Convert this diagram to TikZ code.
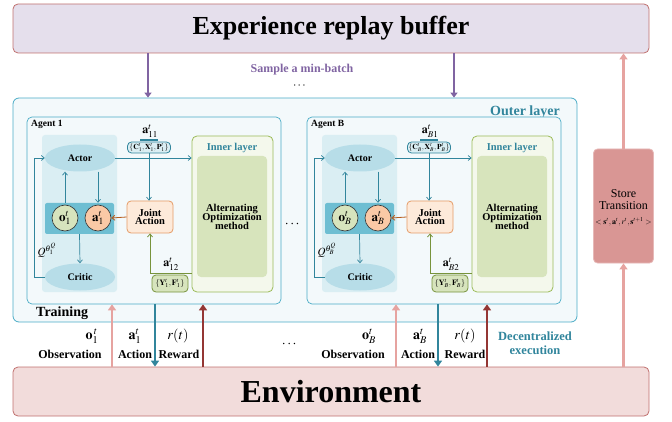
\documentclass[tikz,border=0pt]{standalone}
\usepackage{amsmath}
\usepackage{mathptmx}
\usepackage{fontspec}
\setmainfont{Liberation Serif}
\usetikzlibrary{arrows.meta,calc,shapes.geometric}
\definecolor{bufFill}{HTML}{E5DFEC}
\definecolor{bufDraw}{HTML}{C0706E}
\definecolor{purp}{HTML}{8064A2}
\definecolor{teal1}{HTML}{4BACC6}
\definecolor{tealD}{HTML}{31859C}
\definecolor{outerFill}{HTML}{F3F9FB}
\definecolor{panel}{HTML}{DAEEF3}
\definecolor{ellFill}{HTML}{B7DDE8}
\definecolor{dpanel}{HTML}{6EBED2}
\definecolor{oFill}{HTML}{D7E4BD}
\definecolor{aFill}{HTML}{FAC9A6}
\definecolor{jFill}{HTML}{FDEADA}
\definecolor{jDraw}{HTML}{E59B66}
\definecolor{brownArr}{HTML}{B65C1C}
\definecolor{innerDraw}{HTML}{9BBB59}
\definecolor{innerFill}{HTML}{F4F8EC}
\definecolor{innerIn}{HTML}{D7E4BC}
\definecolor{oliveArr}{HTML}{77933C}
\definecolor{storeFill}{HTML}{D99694}
\definecolor{storeDraw}{HTML}{E6B9B8}
\definecolor{pinkArr}{HTML}{E6A3A0}
\definecolor{darkRed}{HTML}{943634}
\definecolor{envFill}{HTML}{F2DCDB}
\definecolor{envDraw}{HTML}{C0706E}
\newcommand\fs[1]{\fontsize{#1}{#1}\selectfont}
\tikzset{
  bigbox/.style={draw=bufDraw, line width=0.8pt, rounded corners=5pt, minimum width=636, minimum height=49, inner sep=0},
  outerbox/.style={draw=teal1, fill=outerFill, line width=0.8pt, rounded corners=6pt, inner sep=0},
  agentbox/.style={draw=teal1, fill=outerFill, line width=0.7pt, rounded corners=5pt, minimum width=254, minimum height=187, inner sep=0},
  panelbox/.style={fill=panel, rounded corners=3pt, minimum width=75, minimum height=157, inner sep=0},
  ell/.style={ellipse, fill=ellFill, minimum width=70, minimum height=27, inner sep=0, font=\bfseries\fs{10}},
  dpanelbox/.style={fill=dpanel, rounded corners=2pt, minimum width=69, minimum height=31, inner sep=0},
  circ/.style={circle, draw=black!80, line width=0.6pt, minimum size=26, inner sep=0, font=\fs{13}},
  jointbox/.style={draw=jDraw, fill=jFill, line width=0.8pt, rounded corners=4pt, minimum width=46, minimum height=32, inner sep=0, align=center, font=\bfseries\fs{10.5}},
  innerbox/.style={draw=innerDraw, fill=innerFill, line width=0.8pt, rounded corners=5pt, minimum width=81, minimum height=156, inner sep=0},
  innerin/.style={fill=innerIn, rounded corners=4pt, minimum width=70, minimum height=121, inner sep=0},
  setC/.style={draw=tealD, fill=panel, line width=0.8pt, rounded corners=4pt, minimum width=43, minimum height=11, inner sep=0, font=\fs{7.6}},
  setY/.style={draw=oliveArr, fill=oFill, line width=0.8pt, rounded corners=4pt, minimum width=36, minimum height=17, inner sep=0, font=\fs{8}},
  tarr/.style={draw=tealD, line width=0.7pt, -{Straight Barb[length=3pt,width=5pt]}},
  thick arr/.style={line width=2.2pt, -{Triangle[length=6pt,width=8pt]}},
  purparr/.style={draw=purp, line width=1.6pt, -{Triangle[length=5pt,width=7pt]}},
  lab/.style={inner sep=0, font=\bfseries\fs{12}},
}
\newcommand\drawagent[4]{% prefix, xshift, title, sub
\begin{scope}[xshift=#2]
\node[agentbox] (#1box) at (154,210.5) {};
\node[anchor=west, inner sep=0, font=\bfseries\fs{9.5}] (#1title) at (31,124) {#3};
\node[panelbox] (#1panel) at (79.5,213.5) {};
\node[ell] (#1actor) at (80,158) {Actor};
\node[ell] (#1critic) at (80,277) {Critic};
\node[dpanelbox] (#1dp) at (79.5,218.5) {};
\node[circ, fill=oFill] (#1o) at (65,218) {$\mathbf{o}_{#4}^{t}$};
\node[circ, fill=aFill] (#1a) at (98,218) {$\mathbf{a}_{#4}^{t}$};
\node[jointbox] (#1joint) at (150,217) {Joint\\[-2pt]Action};
\node[innerbox] (#1inner) at (232.5,214) {};
\node[innerin] (#1innerin) at (232,216.5) {};
\node[inner sep=0, text=tealD, font=\bfseries\fs{10.5}] (#1innerlab) at (232,148) {Inner layer};
\node[inner sep=0, align=center, font=\bfseries\fs{10.5}] (#1alt) at (232,217) {Alternating\\[-1.5pt]Optimization\\[-1.5pt]method};
\node[setC] (#1C) at (149,147.5) {$\{\mathbf{C}_{#4}^{t},\mathbf{X}_{#4}^{t},\mathbf{P}_{#4}^{t}\}$};
\node[inner sep=0, font=\fs{12}] (#1a1lab) at (150,131) {$\mathbf{a}_{#4 1}^{t}$};
\draw[tealD, line width=1.5pt] ($(#1C.north)+(-9,-1.5)$) coordinate (#1barL) -- ($(#1C.north)+(9,-1.5)$) coordinate (#1barR);
\node[setY] (#1Y) at (170,283.5) {$\{\mathbf{Y}_{#4}^{t},\mathbf{F}_{#4}^{t}\}$};
\node[inner sep=0, font=\fs{12}] (#1a2lab) at (171,264) {$\mathbf{a}_{#4 2}^{t}$};
\node[inner sep=0, font=\fs{11}] (#1Q) at (47,250) {$Q^{\theta_{#4}^{Q}}$};
% arrows
\draw[tarr] (#1o.north |- #1dp.north) -- (#1o.north |- #1actor.south);
\draw[tarr] (#1a.north |- #1actor.south) -- (#1a.north |- #1dp.north);
\draw[tarr] (#1dp.south) -- (#1critic.north);
\draw[tarr] (#1critic.west) -- ++(-10,0) |- (#1actor.west);
\draw[tarr] (#1actor.east) -- (#1actor.east -| #1inner.west);
\draw[tarr] (#1C.south) -- (#1C.south |- #1joint.north);
\draw[draw=brownArr, line width=0.8pt, -{Straight Barb[length=3pt,width=5pt]}] (#1joint.west) -- (#1a.east);
\draw[draw=oliveArr, line width=0.8pt, -{Straight Barb[length=3pt,width=5pt]}] (#1inner.west |- 0,273) -| (#1joint.south);
\end{scope}}
\begin{document}
\begin{tikzpicture}[x=1pt,y=-1pt]
\useasboundingbox (0,0) rectangle (672,422);
% buffer and environment
\node[bigbox, fill=bufFill, font=\bfseries\fs{26}] (buf) at (331,28.5) {Experience replay buffer};
\node[bigbox, fill=envFill, font=\bfseries\fs{32}] (env) at (331,391.5) {Environment};
% outer layer
\node[outerbox, minimum width=564, minimum height=224] (outer) at (295,210) {};
\node[inner sep=0, text=tealD, font=\bfseries\fs{14}] (outerlab) at (525,112) {Outer layer};
\drawagent{A}{0}{Agent 1}{1}
\drawagent{B}{280}{Agent B}{B}
\node[inner sep=0, font=\bfseries\fs{14}] (dotsmid) at (293,224) {$\cdots$};
\node[anchor=west, inner sep=0, font=\bfseries\fs{14}] (training) at (36,313) {Training};
% sample arrows
\draw[purparr] (buf.south -| 148,0) -- (outer.north -| 148,0);
\draw[purparr] (buf.south -| 454,0) -- (outer.north -| 454,0);
\node[inner sep=0, text=purp, font=\bfseries\fs{12}] (sample) at (302,70) {Sample a min-batch};
\node[inner sep=0, font=\fs{12}] (dotstop) at (300,86) {$\cdots$};
% store transition
\node[draw=storeDraw, fill=storeFill, line width=0.8pt, rounded corners=4pt, minimum width=60, minimum height=114, inner sep=0] (store) at (623.5,206) {};
\draw[draw=pinkArr, thick arr] (env.north -| store.center) -- (store.south);
\draw[draw=pinkArr, thick arr] (store.north) -- (buf.south -| store.center);
\node[inner sep=0, align=center, font=\fs{12}] (storetxt) at (623.5,200) {Store\\[0pt]Transition};
\node[inner sep=0, font=\fs{8}] (storemath) at (623.5,222) {$<\mathbf{s}^t,\mathbf{a}^t,r^t,\mathbf{s}^{t+1}>$};
% env arrows agent 1
\draw[draw=pinkArr, thick arr] (env.north -| 112,0) -- (Abox.south -| 112,0);
\draw[draw=tealD, thick arr] (Abox.south -| 155,0) -- (env.north -| 155,0);
\draw[draw=darkRed, thick arr] (env.north -| 203,0) -- (Abox.south -| 203,0);
% env arrows agent B
\draw[draw=pinkArr, thick arr] (env.north -| 396,0) -- (Bbox.south -| 396,0);
\draw[draw=tealD, thick arr] (Bbox.south -| 438,0) -- (env.north -| 438,0);
\draw[draw=darkRed, thick arr] (env.north -| 487,0) -- (Bbox.south -| 487,0);
% labels agent 1
\node[inner sep=0, font=\fs{14}] (o1lab) at (92,336) {$\mathbf{o}_{1}^{\,t}$};
\node[lab] (obs1) at (70,354) {Observation};
\node[inner sep=0, font=\fs{14}] (a1lab) at (135,336) {$\mathbf{a}_{1}^{t}$};
\node[lab] (act1) at (135,354) {Action};
\node[inner sep=0, font=\fs{14}] (r1lab) at (178,336) {$r(t)$};
\node[lab] (rew1) at (179,354) {Reward};
\node[inner sep=0, font=\bfseries\fs{14}] (dotsbot) at (290,344) {$\cdots$};
% labels agent B
\node[inner sep=0, font=\fs{14}] (oBlab) at (369,336) {$\mathbf{o}_{B}^{t}$};
\node[lab] (obsB) at (353,354) {Observation};
\node[inner sep=0, font=\fs{14}] (aBlab) at (420,336) {$\mathbf{a}_{B}^{t}$};
\node[lab] (actB) at (418,354) {Action};
\node[inner sep=0, font=\fs{14}] (rBlab) at (465,336) {$r(t)$};
\node[lab] (rewB) at (465,354) {Reward};
\node[inner sep=0, align=center, text=tealD, font=\bfseries\fs{12.5}] (dec) at (535,343) {Decentralized\\[1pt]execution};
\end{tikzpicture}
\end{document}
